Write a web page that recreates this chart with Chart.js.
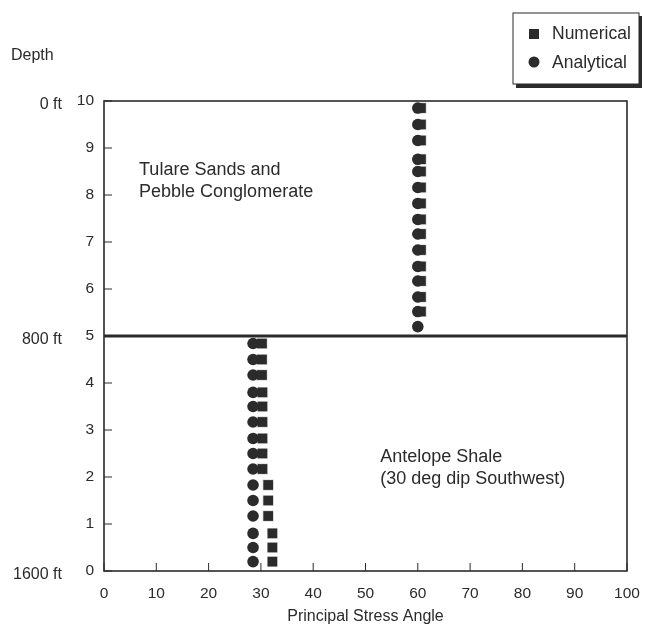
<!DOCTYPE html>
<html>
<head>
<meta charset="utf-8">
<script src="https://cdn.jsdelivr.net/npm/chart.js@4.4.1/dist/chart.umd.min.js"></script>
<style>
  html, body { margin: 0; padding: 0; background: #fff; }
  #wrap { width: 646px; height: 626px; }
</style>
</head>
<body>
<div id="wrap"><canvas id="stressChart" width="646" height="626"></canvas></div>
<script>
// Depth (0 = 1600 ft, 10 = 0 ft) and principal stress angle
const upperDepth = [9.85, 9.5, 9.16, 8.76, 8.5, 8.16, 7.82, 7.48, 7.17, 6.83, 6.48, 6.17, 5.83, 5.52, 5.2];
const upperAnalytical = [60.0, 60.0, 60.0, 60.0, 60.0, 60.0, 60.0, 60.0, 60.0, 60.0, 60.0, 60.0, 60.0, 60.0, 60.0];
const upperNumerical = [60.6, 60.6, 60.6, 60.6, 60.6, 60.6, 60.6, 60.6, 60.6, 60.6, 60.6, 60.6, 60.6, 60.6, null];

const lowerDepth = [4.84, 4.5, 4.17, 3.8, 3.5, 3.17, 2.82, 2.5, 2.17, 1.83, 1.5, 1.17, 0.8, 0.5, 0.2];
const lowerAnalytical = [28.5, 28.5, 28.5, 28.5, 28.5, 28.5, 28.5, 28.5, 28.5, 28.5, 28.5, 28.5, 28.5, 28.5, 28.5];
const lowerNumerical = [30.2, 30.2, 30.2, 30.3, 30.3, 30.3, 30.3, 30.3, 30.3, 31.4, 31.4, 31.4, 32.2, 32.2, 32.2];

const boundaryDepth = 5;
const xTicks = [0, 10, 20, 30, 40, 50, 60, 70, 80, 90, 100];
const yTicks = [0, 1, 2, 3, 4, 5, 6, 7, 8, 9, 10];
const depthLabels = [
  { value: 10, text: '0 ft' },
  { value: 5, text: '800 ft' },
  { value: 0, text: '1600 ft' }
];
const layerNotes = [
  { x: 6.7, y: 8.53, lines: ['Tulare Sands and', 'Pebble Conglomerate'] },
  { x: 52.8, y: 2.43, lines: ['Antelope Shale', '(30 deg dip Southwest)'] }
];

const FONT = '"Liberation Sans", Arial, Helvetica, sans-serif';
const INK = '#2b2b2b';

function toPoints(xs, ys) {
  const pts = [];
  xs.forEach((x, i) => {
    if (x !== null) pts.push({ x: x, y: ys[i] });
  });
  return pts;
}

// frame, inward ticks, depth labels, layer notes and the legend box
const decorations = {
  id: 'decorations',
  afterDraw(chart) {
    const ctx = chart.ctx;
    const a = chart.chartArea;
    const xs = chart.scales.x;
    const ys = chart.scales.y;
    ctx.save();
    ctx.strokeStyle = INK;
    ctx.lineWidth = 1.6;
    ctx.strokeRect(a.left, a.top, a.right - a.left, a.bottom - a.top);

    ctx.lineWidth = 1;
    yTicks.forEach(v => {
      const py = ys.getPixelForValue(v);
      ctx.beginPath();
      ctx.moveTo(a.left, py);
      ctx.lineTo(a.left + 8, py);
      ctx.stroke();
    });
    xTicks.forEach(v => {
      const px = xs.getPixelForValue(v);
      ctx.beginPath();
      ctx.moveTo(px, a.bottom);
      ctx.lineTo(px, a.bottom - 8);
      ctx.stroke();
    });

    ctx.fillStyle = INK;
    ctx.font = '16px ' + FONT;
    ctx.textBaseline = 'middle';
    ctx.textAlign = 'left';
    ctx.fillText('Depth', 11, 56);
    ctx.textAlign = 'right';
    depthLabels.forEach(d => {
      ctx.fillText(d.text, 62, ys.getPixelForValue(d.value) + 4);
    });

    ctx.textAlign = 'left';
    ctx.font = '18px ' + FONT;
    layerNotes.forEach(n => {
      const px = xs.getPixelForValue(n.x);
      const py = ys.getPixelForValue(n.y);
      n.lines.forEach((line, i) => ctx.fillText(line, px, py + i * 22));
    });

    // legend box with drop shadow
    const bx = 513, by = 13, bw = 126, bh = 71;
    ctx.fillStyle = INK;
    ctx.fillRect(bx + 3, by + bh, bw, 4);
    ctx.fillRect(bx + bw, by + 3, 3, bh);
    ctx.fillStyle = '#fff';
    ctx.fillRect(bx, by, bw, bh);
    ctx.strokeStyle = INK;
    ctx.lineWidth = 1;
    ctx.strokeRect(bx, by, bw, bh);
    ctx.fillStyle = INK;
    ctx.fillRect(529, 29, 10, 10);
    ctx.beginPath();
    ctx.arc(534, 62, 5.5, 0, Math.PI * 2);
    ctx.fill();
    ctx.font = '17.5px ' + FONT;
    ctx.fillText('Numerical', 552, 34);
    ctx.fillText('Analytical', 552, 63);
    ctx.restore();
  }
};

const ctx = document.getElementById('stressChart').getContext('2d');
new Chart(ctx, {
  type: 'scatter',
  data: {
    datasets: [
      {
        label: 'Boundary',
        type: 'line',
        data: [{ x: 0, y: boundaryDepth }, { x: 100, y: boundaryDepth }],
        borderColor: INK,
        borderWidth: 3,
        pointRadius: 0
      },
      {
        label: 'Analytical',
        data: toPoints(upperAnalytical, upperDepth).concat(toPoints(lowerAnalytical, lowerDepth)),
        pointStyle: 'circle',
        pointRadius: 5.8,
        backgroundColor: INK,
        borderColor: INK,
        borderWidth: 0
      },
      {
        label: 'Numerical',
        data: toPoints(upperNumerical, upperDepth).concat(toPoints(lowerNumerical, lowerDepth)),
        pointStyle: 'rect',
        pointRadius: 7.6,
        backgroundColor: INK,
        borderColor: '#ffffff',
        borderWidth: 0.8
      }
    ]
  },
  options: {
    responsive: false,
    animation: false,
    layout: { padding: { top: 101, right: 19, left: 0, bottom: 0 } },
    plugins: {
      legend: { display: false },
      tooltip: { enabled: false }
    },
    scales: {
      x: {
        type: 'linear',
        min: 0,
        max: 100,
        afterFit: s => { s.height = 55; s.paddingLeft = 0; s.paddingRight = 0; },
        afterBuildTicks: s => { s.ticks = xTicks.map(v => ({ value: v })); },
        grid: { display: false, drawTicks: false },
        border: { display: false },
        ticks: {
          color: INK,
          padding: 13,
          font: { family: FONT, size: 15.5 }
        },
        title: {
          display: true,
          text: 'Principal Stress Angle',
          color: INK,
          padding: { top: 2, bottom: 0 },
          font: { family: FONT, size: 16 }
        }
      },
      y: {
        type: 'linear',
        min: 0,
        max: 10,
        afterFit: s => { s.width = 104; s.paddingTop = 0; s.paddingBottom = 0; },
        afterBuildTicks: s => { s.ticks = yTicks.map(v => ({ value: v })); },
        grid: { display: false, drawTicks: false },
        border: { display: false },
        ticks: {
          color: INK,
          padding: 10,
          font: { family: FONT, size: 15.5 }
        }
      }
    }
  },
  plugins: [decorations]
});
</script>
</body>
</html>
